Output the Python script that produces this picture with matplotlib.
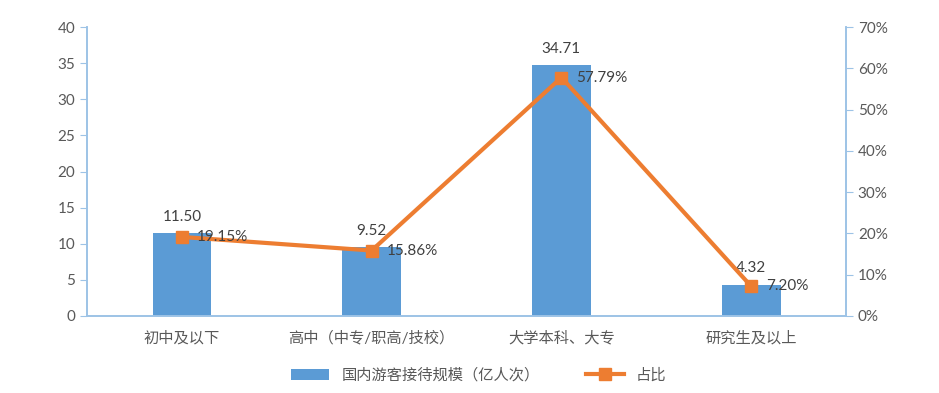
import numpy as np
import matplotlib.pyplot as plt

plt.rcParams['font.family'] = ['Lato', 'Noto Sans CJK SC', 'DejaVu Sans']

categories = ['初中及以下', '高中（中专/职高/技校）', '大学本科、大专', '研究生及以上']
scale = [11.50, 9.52, 34.71, 4.32]
share = [19.15, 15.86, 57.79, 7.20]

bar_color = '#5B9BD5'
line_color = '#ED7D31'
axis_color = '#9DC3E6'
text_color = '#595959'

fig = plt.figure(figsize=(9.39, 3.93), dpi=100)
ax = fig.add_axes([0.0927, 0.196, 0.8083, 0.735])
ax2 = ax.twinx()

x = np.arange(len(categories))
ax.bar(x, scale, width=0.31, color=bar_color, label='国内游客接待规模（亿人次）', zorder=2)
ax2.plot(x, share, color=line_color, lw=3, marker='s', ms=8, label='占比', zorder=3)

for xi, v in zip(x, scale):
    ax.text(xi, v + 1.3, f'{v:.2f}', ha='center', va='bottom', fontsize=11, color='#404040')
for xi, v in zip(x, share):
    ax2.text(xi + 0.08, v, f'{v:.2f}%', ha='left', va='center', fontsize=11, color='#404040')

ax.set_xlim(-0.5, 3.5)
ax.set_ylim(0, 40)
ax.set_yticks(range(0, 41, 5))
ax2.set_ylim(0, 70)
ax2.set_yticks(range(0, 71, 10))
ax2.set_yticklabels([f'{t}%' for t in range(0, 71, 10)])
ax.set_xticks(x)
ax.set_xticklabels(categories)
for lbl in ax.get_xticklabels():
    lbl.set_verticalalignment('baseline')

for a in (ax, ax2):
    a.spines['top'].set_visible(False)
    for s in ('left', 'right', 'bottom'):
        a.spines[s].set_color(axis_color)
        a.spines[s].set_linewidth(1.2)
    a.tick_params(axis='y', colors=axis_color, labelcolor=text_color, labelsize=11, length=5)
ax.tick_params(axis='x', length=0, labelcolor=text_color, labelsize=11, pad=19)

h1, l1 = ax.get_legend_handles_labels()
h2, l2 = ax2.get_legend_handles_labels()
fig.legend(h1 + h2, l1 + l2, loc='center', bbox_to_anchor=(0.51, 0.045), ncol=2,
           frameon=False, fontsize=11, labelcolor=text_color, handlelength=2.5, columnspacing=3)

fig.savefig('out.png', dpi=100)
